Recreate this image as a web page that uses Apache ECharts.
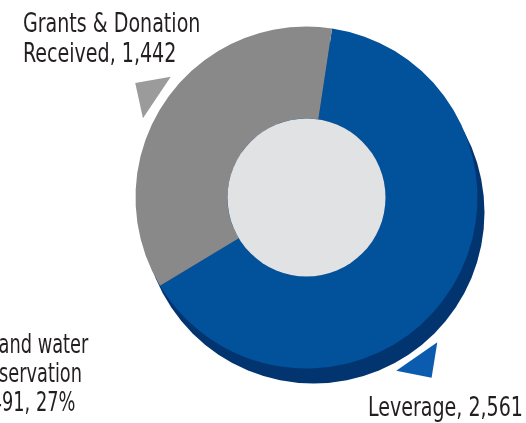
<!DOCTYPE html>
<html><head><meta charset="utf-8">
<script src="https://cdn.jsdelivr.net/npm/echarts@6/dist/echarts.min.js"></script>
<style>html,body{margin:0;padding:0;background:#fff}#c{width:526px;height:423px}</style>
</head><body><div id="c"></div>
<script>
// ---- data ----
const categories = ['Leverage', 'Grants & Donation Received'];
const values = [2561, 1442];
const labelTexts = ['Leverage, 2,561', 'Grants & Donation\nReceived, 1,442'];
const sideNoteLines = ['Soil and water', 'conservation', '1,491, 27%'];

// ---- layout / style ----
const cx = 306.5, cy = 197.5, rIn = 79, rOut = 171;
const startAngle = 81.4;
const sliceColors = ['#02519b', '#898989'];
const pointerColors = ['#0b5cae', '#9b9b9b'];
const pointerShift = [-21.5, 0];      // degrees relative to slice mid-angle
const pointerBase = [193.5, 180];     // radius of pointer base
const FONT = '"DejaVu Sans Condensed","Liberation Sans Narrow",sans-serif';
const FS = 26, SX = 0.815, SX_NOTE = 0.76;
const TXT = '#231f20';

const chart = echarts.init(document.getElementById('c'), null, {renderer: 'canvas'});

const total = values.reduce((a, b) => a + b, 0);
let acc = startAngle;
const mids = values.map(v => { const span = v / total * 360; const m = acc - span / 2; acc -= span; return m; });

function pointer(i) {
  const a = (mids[i] + pointerShift[i]) * Math.PI / 180;
  const ux = Math.cos(a), uy = -Math.sin(a);
  const px = Math.sin(a), py = Math.cos(a);
  const rb = pointerBase[i], ra = rb + 26, hw = 25;
  return {
    type: 'polygon', silent: true, z: 10,
    shape: {points: [
      [cx + ux * rb + px * hw, cy + uy * rb + py * hw],
      [cx + ux * ra, cy + uy * ra],
      [cx + ux * rb - px * hw, cy + uy * rb - py * hw]
    ]},
    style: {fill: pointerColors[i]}
  };
}

// the side note (from a neighbouring chart) is centred and cut by the left edge
const mctx = document.createElement('canvas').getContext('2d');
mctx.font = FS + 'px ' + FONT;
const noteCenter = 82 - mctx.measureText(sideNoteLines[1]).width * SX_NOTE / 2;

function textEl(text, x, y, align, lh, sx) {
  return {
    type: 'text', silent: true, z: 20,
    x: x, y: y, scaleX: sx,
    style: {text: text, fill: TXT, fontSize: FS, lineHeight: lh, fontFamily: FONT,
            align: align, verticalAlign: 'top'}
  };
}

const labelPos = [
  {x: 523, y: 394, align: 'right'},
  {x: 23, y: 10, align: 'left'}
];

chart.setOption({
  animation: false,
  backgroundColor: '#ffffff',
  series: [
    {
      type: 'pie', silent: true, z: 1,
      center: [cx + 7, cy + 15], radius: [0, rOut],
      label: {show: false}, labelLine: {show: false},
      itemStyle: {color: '#023470'},
      data: [{value: 1, name: 'depth'}]
    },
    {
      type: 'pie', silent: true, z: 2,
      center: [cx, cy], radius: [rIn, rOut],
      startAngle: startAngle, clockwise: true,
      data: categories.map((c, i) => ({
        name: c, value: values[i],
        itemStyle: {color: sliceColors[i]}
      })),
      label: {show: false},
      labelLine: {show: false}
    },
    {
      type: 'pie', silent: true, z: 3,
      center: [cx, cy], radius: [0, rIn],
      label: {show: false}, labelLine: {show: false},
      itemStyle: {color: '#e1e2e4'},
      data: [{value: 1, name: 'hole'}]
    }
  ],
  graphic: [
    pointer(0), pointer(1),
    textEl(labelTexts[0], labelPos[0].x, labelPos[0].y, labelPos[0].align, 30, SX),
    textEl(labelTexts[1], labelPos[1].x, labelPos[1].y, labelPos[1].align, 30, SX),
    textEl(sideNoteLines.join('\n'), noteCenter, 332, 'center', 29, SX_NOTE)
  ]
});
</script>
</body></html>
